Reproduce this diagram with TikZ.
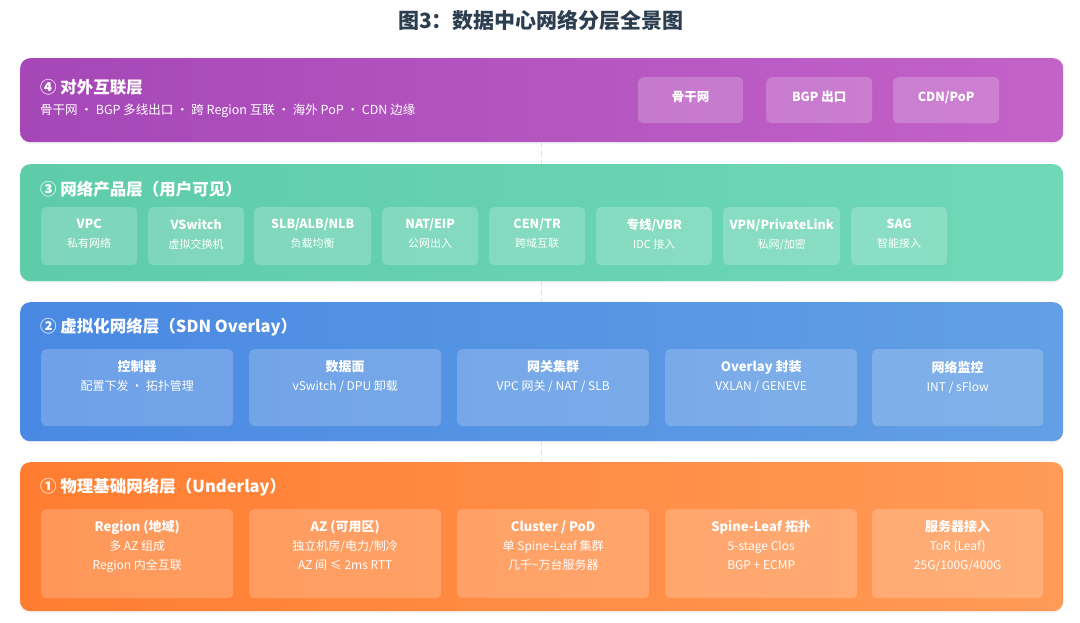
\documentclass[tikz,border=0pt]{standalone}
\usepackage{fontspec}
\setmainfont{Noto Sans CJK SC}
\usepackage{tikz}
\usetikzlibrary{positioning,shadows}

\definecolor{titlecol}{HTML}{2C3E50}
\definecolor{purpleL}{HTML}{A647B8}
\definecolor{purpleR}{HTML}{C363C8}
\definecolor{greenL}{HTML}{5ECCA9}
\definecolor{greenR}{HTML}{6FD8B7}
\definecolor{blueL}{HTML}{4A89E3}
\definecolor{blueR}{HTML}{629FE4}
\definecolor{orangeL}{HTML}{FF7D30}
\definecolor{orangeR}{HTML}{FF9B57}
\definecolor{linkcol}{HTML}{DDDDDD}

\begin{document}
\begin{tikzpicture}[x=1pt, y=-1pt,
  layer/.style={rounded corners=10pt, anchor=north west, inner sep=0pt,
    minimum width=1043pt, drop shadow={opacity=0.08, shadow xshift=0pt, shadow yshift=-2pt}},
  card/.style={fill=white, fill opacity=0.2, rounded corners=5pt, anchor=north west, inner sep=0pt},
  cardtxt/.style={text=white, align=center, anchor=north, inner sep=2pt, font=\fontsize{12}{19}\selectfont,
    execute at begin node=\rule{0pt}{13pt}},
  laytitle/.style={text=white, anchor=west, inner sep=0pt, font=\fontsize{16.5}{20}\selectfont\bfseries},
  laysub/.style={text=white, anchor=west, inner sep=0pt, font=\fontsize{12.5}{16}\selectfont},
  link/.style={draw=linkcol, line width=1.5pt, dash pattern=on 5pt off 4pt}]
  \useasboundingbox (0,0) rectangle (1080,622);
  %----- 基本參數 -----
  \def\card#1#2#3#4#5#6{ % (name, x, y, w, h, text)
    \node[card, minimum width=#4pt, minimum height=#5pt] (#1) at (#2,#3) {};
    \node[cardtxt] (#1t) at ([yshift=-9.5pt]#1.north) {#6};
  }
  \def\hd#1{{\fontsize{13}{19}\selectfont\bfseries #1}}
  \def\hs#1{{\fontsize{12.5}{19}\selectfont\bfseries #1}}
  \def\sm#1{{\fontsize{11}{19}\selectfont #1}}

  %----- 標題 -----
  \node[text=titlecol, font=\fontsize{21}{25}\selectfont\bfseries] (title) at (541,20) {图3：数据中心网络分层全景图};

  %----- ④ 对外互联层 -----
  \node[layer, left color=purpleL, right color=purpleR, minimum height=84pt] (l4) at (20,58) {};
  \node[laytitle] (l4t) at ([xshift=20pt,yshift=-29pt]l4.north west) {④ 对外互联层};
  \node[laysub] (l4s) at ([xshift=20pt,yshift=-53pt]l4.north west) {骨干网 · BGP 多线出口 · 跨 Region 互联 · 海外 PoP · CDN 边缘};
  \card{g1}{638}{77}{105}{46}{\hs{骨干网}}
  \card{g2}{766}{77}{106}{46}{\hs{BGP 出口}}
  \card{g3}{893}{77}{106}{46}{\hs{CDN/PoP}}

  %----- ③ 网络产品层 -----
  \node[layer, left color=greenL, right color=greenR, minimum height=117pt] (l3) at (20,164) {};
  \node[laytitle] (l3t) at ([xshift=20pt,yshift=-25pt]l3.north west) {③ 网络产品层（用户可见）};
  \card{p1}{41}{207}{96}{58}{\hs{VPC}\\\sm{私有网络}}
  \card{p2}{148}{207}{96}{58}{\hs{VSwitch}\\\sm{虚拟交换机}}
  \card{p3}{254}{207}{117}{58}{\hs{SLB/ALB/NLB}\\\sm{负载均衡}}
  \card{p4}{382}{207}{96}{58}{\hs{NAT/EIP}\\\sm{公网出入}}
  \card{p5}{489}{207}{96}{58}{\hs{CEN/TR}\\\sm{跨域互联}}
  \card{p6}{596}{207}{116}{58}{\hs{专线/VBR}\\\sm{IDC 接入}}
  \card{p7}{723}{207}{117}{58}{\hs{VPN/PrivateLink}\\\sm{私网/加密}}
  \card{p8}{851}{207}{96}{58}{\hs{SAG}\\\sm{智能接入}}

  %----- ② 虚拟化网络层 -----
  \node[layer, left color=blueL, right color=blueR, minimum height=139pt] (l2) at (20,302) {};
  \node[laytitle] (l2t) at ([xshift=20pt,yshift=-25pt]l2.north west) {② 虚拟化网络层（SDN Overlay）};
  \card{v1}{41}{349}{192}{77}{\hd{控制器}\\配置下发 · 拓扑管理}
  \card{v2}{249}{349}{192}{77}{\hd{数据面}\\vSwitch / DPU 卸载}
  \card{v3}{457}{349}{192}{77}{\hd{网关集群}\\VPC 网关 / NAT / SLB}
  \card{v4}{665}{349}{192}{77}{\hd{Overlay 封装}\\VXLAN / GENEVE}
  \card{v5}{872}{349}{171}{77}{\hd{网络监控}\\INT / sFlow}

  %----- ① 物理基础网络层 -----
  \node[layer, left color=orangeL, right color=orangeR, minimum height=149pt] (l1) at (20,462) {};
  \node[laytitle] (l1t) at ([xshift=20pt,yshift=-25pt]l1.north west) {① 物理基础网络层（Underlay）};
  \card{u1}{41}{509}{192}{89}{\hd{Region (地域)}\\多 AZ 组成\\Region 内全互联}
  \card{u2}{249}{509}{192}{89}{\hd{AZ (可用区)}\\独立机房/电力/制冷\\AZ 间 ≤ 2ms RTT}
  \card{u3}{457}{509}{192}{89}{\hd{Cluster / PoD}\\单 Spine-Leaf 集群\\几千\textasciitilde 万台服务器}
  \card{u4}{665}{509}{192}{89}{\hd{Spine-Leaf 拓扑}\\5-stage Clos\\BGP + ECMP}
  \card{u5}{872}{509}{171}{89}{\hd{服务器接入}\\ToR (Leaf)\\25G/100G/400G}

  %----- 層間虛線 -----
  \draw[link] (l4.south) -- (l3.north);
  \draw[link] (l3.south) -- (l2.north);
  \draw[link] (l2.south) -- (l1.north);
\end{tikzpicture}
\end{document}
